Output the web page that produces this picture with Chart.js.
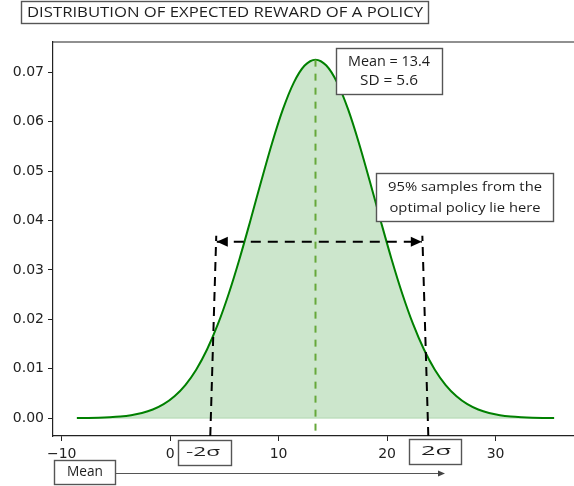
<!DOCTYPE html>
<html>
<head>
<meta charset="utf-8">
<script src="https://cdn.jsdelivr.net/npm/chart.js"></script>
<style>
	html, body { margin: 0; padding: 0; background: #fff; overflow: hidden; }
	canvas { display: block; }
</style>
</head>
<body>
<canvas id="chart" width="600" height="486"></canvas>
<script>
// expected reward values (x) and the density (y)
const rewardX = [-8.6, -7.6, -6.6, -5.6, -4.6, -3.6, -2.6, -1.6, -0.6, 0.4, 1.4, 2.4, 3.4, 4.4, 5.4,
	6.4, 7.4, 8.4, 9.4, 10.4, 11.4, 12.4, 13.4, 14.4, 15.4, 16.4, 17.4, 18.4, 19.4, 20.4,
	21.4, 22.4, 23.4, 24.4, 25.4, 26.4, 27.4, 28.4, 29.4, 30.4, 31.4, 32.4, 33.4, 34.4, 35.4];
const density = [0.000024, 0.000050, 0.000097, 0.00019, 0.00034, 0.00061, 0.00105, 0.00176, 0.00284,
	0.00444, 0.00671, 0.00982, 0.01389, 0.01901, 0.02518, 0.03227, 0.04000, 0.04798, 0.05568,
	0.06251, 0.06789, 0.07134, 0.07253, 0.07134, 0.06789, 0.06251, 0.05568, 0.04798, 0.04000,
	0.03227, 0.02518, 0.01901, 0.01389, 0.00982, 0.00671, 0.00444, 0.00284, 0.00176, 0.00105,
	0.00061, 0.00034, 0.00019, 0.000097, 0.000050, 0.000024];

const meanValue = 13.4;
const sdValue = 5.6;
const peakDensity = 0.07253;

// the dashed bracket round the central 95%
const bracketY = 0.0357;
const bracketTopX = [4.3, 23.2];
const bracketBottomX = [3.7, 23.8];

const xTicks = [-10, 0, 10, 20, 30];
const xTickLabels = ['\u221210', '0', '10', '20', '30'];
const yTicks = [0, 0.01, 0.02, 0.03, 0.04, 0.05, 0.06, 0.07];
const xRange = [-10.8, 37.6];
const yRange = [-0.0036, 0.0761];

const pts = (xs, ys) => xs.map((x, i) => ({x: x, y: ys[i]}));

const tickFont = {family: 'DejaVu Sans', size: 14};
const noteFont = '"Open Sans"';

const drawNote = (ctx, str, cx, cy, width, size) => {
	ctx.save();
	ctx.font = size + 'px ' + noteFont;
	const w = ctx.measureText(str).width;
	ctx.translate(cx, cy);
	if (width) ctx.scale(width / w, 1);
	ctx.textAlign = 'center';
	ctx.textBaseline = 'middle';
	ctx.fillStyle = '#1e1e1e';
	ctx.fillText(str, 0, 0);
	ctx.restore();
}

const drawBox = (ctx, x, y, w, h) => {
	ctx.save();
	ctx.fillStyle = '#fff';
	ctx.fillRect(x, y, w, h);
	ctx.strokeStyle = '#555';
	ctx.lineWidth = 1.4;
	ctx.strokeRect(x + 0.5, y + 0.5, w, h);
	ctx.restore();
}

const arrowHead = (ctx, tipX, tipY, dir, len, half, color) => {
	ctx.save();
	ctx.fillStyle = color;
	ctx.beginPath();
	ctx.moveTo(tipX, tipY);
	ctx.lineTo(tipX - dir * len, tipY - half);
	ctx.lineTo(tipX - dir * len, tipY + half);
	ctx.closePath();
	ctx.fill();
	ctx.restore();
}

const notes = {
	id: 'notes',
	afterDatasetsDraw(chart) {
		const ctx = chart.ctx;
		const xs = chart.scales.x, ys = chart.scales.y;
		const yb = ys.getPixelForValue(bracketY);
		arrowHead(ctx, xs.getPixelForValue(bracketTopX[0]), yb, -1, 11, 5, '#000');
		arrowHead(ctx, xs.getPixelForValue(bracketTopX[1]), yb, 1, 11, 5, '#000');
	},
	afterDraw(chart) {
		const ctx = chart.ctx;
		const a = chart.chartArea;
		// top spine
		ctx.save();
		ctx.strokeStyle = '#222';
		ctx.lineWidth = 1.2;
		ctx.beginPath();
		ctx.moveTo(a.left, a.top);
		ctx.lineTo(a.right, a.top);
		ctx.lineTo(a.right, a.bottom);
		ctx.stroke();
		ctx.restore();

		// title
		drawBox(ctx, 21, 1, 407, 22);
		drawNote(ctx, 'DISTRIBUTION OF EXPECTED REWARD OF A POLICY', 225, 12.5, 396, 15);

		drawBox(ctx, 336, 48, 106, 46);
		drawNote(ctx, 'Mean = ' + meanValue, 389, 62, 82, 14);
		drawNote(ctx, 'SD = ' + sdValue, 389, 81, 58, 14);

		drawBox(ctx, 376, 173, 177, 48);
		drawNote(ctx, '95% samples from the', 465, 187, 154, 13.5);
		drawNote(ctx, 'optimal policy lie here', 465, 208, 151, 13.5);

		drawBox(ctx, 178, 440, 53, 25);
		drawNote(ctx, '-2\u03c3', 203, 452, 34, 13);
		drawBox(ctx, 409, 439, 52, 25);
		drawNote(ctx, '2\u03c3', 436, 451, 30, 13);

		// mean arrow along the bottom
		ctx.save();
		ctx.strokeStyle = '#555';
		ctx.lineWidth = 1;
		ctx.beginPath();
		ctx.moveTo(115, 473.5);
		ctx.lineTo(440, 473.5);
		ctx.stroke();
		ctx.restore();
		arrowHead(ctx, 445, 473.5, 1, 7, 3, '#444');
		drawBox(ctx, 54, 460, 61, 24);
		drawNote(ctx, 'Mean', 85, 472, 36, 14);
	}
};

new Chart(document.getElementById('chart'), {
	type: 'scatter',
	data: {
		datasets: [
			{
				data: pts(rewardX, density),
				showLine: true,
				borderColor: '#008000',
				borderWidth: 2,
				backgroundColor: 'rgba(0,128,0,0.2)',
				fill: 'origin',
				pointRadius: 0,
				cubicInterpolationMode: 'monotone',
				order: 2
			},
			{
				// edge of the filled area along zero
				data: pts([rewardX[0], rewardX[rewardX.length - 1]], [0, 0]),
				showLine: true,
				borderColor: 'rgba(0,128,0,0.2)',
				borderWidth: 1,
				pointRadius: 0,
				order: 3
			},
			{
				data: pts([meanValue, meanValue], [peakDensity, yRange[0]]),
				showLine: true,
				borderColor: '#66a83a',
				borderWidth: 2,
				borderDash: [7, 7],
				pointRadius: 0,
				order: 1
			},
			{
				data: pts([bracketBottomX[0], bracketTopX[0] - 0.05], [yRange[0], bracketY + 0.0012]),
				showLine: true,
				borderColor: '#000',
				borderWidth: 2,
				borderDash: [9, 6],
				pointRadius: 0,
				order: 0
			},
			{
				data: pts([bracketBottomX[1], bracketTopX[1] + 0.05], [yRange[0], bracketY + 0.0012]),
				showLine: true,
				borderColor: '#000',
				borderWidth: 2,
				borderDash: [9, 6],
				pointRadius: 0,
				order: 0
			},
			{
				data: pts(bracketTopX, [bracketY, bracketY]),
				showLine: true,
				borderColor: '#000',
				borderWidth: 2,
				borderDash: [10, 7],
				pointRadius: 0,
				order: 0
			}
		]
	},
	options: {
		responsive: false,
		animation: false,
		devicePixelRatio: 1,
		layout: {padding: {left: 0, top: 42, right: 22, bottom: 0}},
		plugins: {legend: {display: false}, tooltip: {enabled: false}},
		scales: {
			x: {
				type: 'linear',
				min: xRange[0],
				max: xRange[1],
				afterBuildTicks: s => { s.ticks = xTicks.map(v => ({value: v})); },
				afterFit: s => { s.height = 50; },
				ticks: {
					font: tickFont,
					color: '#222',
					padding: 5,
					maxRotation: 0,
					callback: (v) => xTickLabels[xTicks.indexOf(v)]
				},
				grid: {drawOnChartArea: false, drawTicks: true, tickLength: 5, color: '#222'},
				border: {display: true, color: '#222', width: 1.2}
			},
			y: {
				type: 'linear',
				min: yRange[0],
				max: yRange[1],
				afterBuildTicks: s => { s.ticks = yTicks.map(v => ({value: v})); },
				afterFit: s => { s.width = 53; },
				ticks: {
					font: tickFont,
					color: '#222',
					padding: 4,
					callback: (v) => v.toFixed(2)
				},
				grid: {drawOnChartArea: false, drawTicks: true, tickLength: 5, color: '#222'},
				border: {display: true, color: '#222', width: 1.2}
			}
		}
	},
	plugins: [notes]
});
</script>
</body>
</html>
